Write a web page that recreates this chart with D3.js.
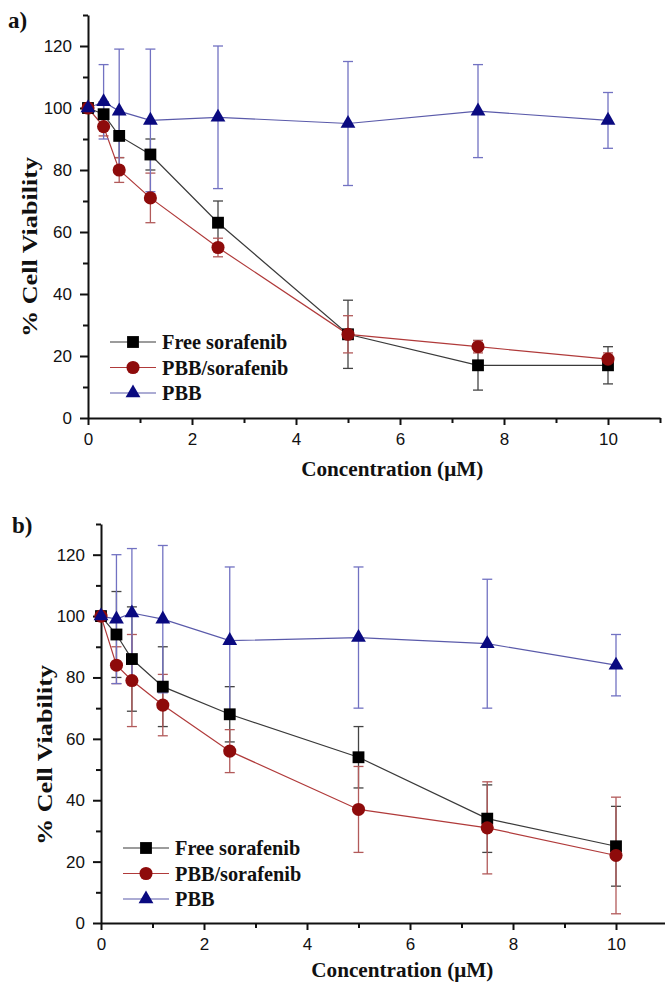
<!DOCTYPE html>
<html>
<head>
<meta charset="utf-8">
<script src="https://cdn.jsdelivr.net/npm/d3@7"></script>
<style>
  body { margin: 0; background: #fff; }
  svg { display: block; }
  .tickLabel text { font-family: "Liberation Sans", Arial, sans-serif; font-size: 17px; fill: #111; }
  .titre { font-family: "Liberation Serif", "Times New Roman", serif; font-weight: bold; fill: #111; }
</style>
</head>
<body>
<svg id="chart" width="665" height="984"></svg>
<script>
"use strict";

// concentrations (µM)
var concentrations = [0, 0.3, 0.6, 1.2, 2.5, 5, 7.5, 10];

// panel a
var freeA    = [100, 98, 91, 85, 63, 27, 17, 17];
var freeErrA = [0, 4, 7, 5, 7, 11, 8, 6];
var pbbSoraA    = [100, 94, 80, 71, 55, 27, 23, 19];
var pbbSoraErrA = [0, 3, 4, 8, 3, 6, 2, 2];
var pbbA    = [100, 102, 99, 96, 97, 95, 99, 96];
var pbbErrA = [0, 12, 20, 23, 23, 20, 15, 9];

// panel b
var freeB    = [100, 94, 86, 77, 68, 54, 34, 25];
var freeErrB = [0, 14, 17, 13, 9, 10, 11, 13];
var pbbSoraB    = [100, 84, 79, 71, 56, 37, 31, 22];
var pbbSoraErrB = [0, 6, 15, 10, 7, 14, 15, 19];
var pbbB    = [100, 99, 101, 99, 92, 93, 91, 84];
var pbbErrB = [0, 21, 21, 24, 24, 23, 21, 10];

var nomsSeries = ["Free sorafenib", "PBB/sorafenib", "PBB"];
var xTicks = [0, 2, 4, 6, 8, 10];
var yTicks = [0, 20, 40, 60, 80, 100, 120];

// styles des séries
var styles = [
    { symbole: d3.symbolSquare,   taille: 140, couleur: "#000000", ligne: "#3a3a3a", erreur: "#444444" },
    { symbole: d3.symbolCircle,   taille: 135, couleur: "#8e0b0b", ligne: "#b03a3a", erreur: "#b25a5a" },
    { symbole: d3.symbolTriangle, taille: 95,  couleur: "#0a0a80", ligne: "#5a5aaa", erreur: "#7272c2" }
];

var svg = d3.select("#chart");

function dessinerPanneau(opt) {
    var g = svg.append("g");

    var x = d3.scaleLinear().domain([0, 11]).range([opt.x0, opt.x1]);
    var y = d3.scaleLinear().domain([0, 130]).range([opt.y0, opt.y1]);

    // axes mineurs
    g.append("g").attr("transform", "translate(0," + opt.y0 + ")")
        .call(d3.axisBottom(x).tickValues([1, 3, 5, 7, 9, 11]).tickFormat("").tickSize(5).tickSizeOuter(0))
        .call(function(s) { s.select(".domain").remove(); s.selectAll("line").attr("stroke", "#111").attr("stroke-width", 2); });
    g.append("g").attr("transform", "translate(" + opt.x0 + ",0)")
        .call(d3.axisLeft(y).tickValues([10, 30, 50, 70, 90, 110, 130]).tickFormat("").tickSize(5).tickSizeOuter(0))
        .call(function(s) { s.select(".domain").remove(); s.selectAll("line").attr("stroke", "#111").attr("stroke-width", 2); });

    // axes majeurs
    g.append("g").attr("class", "tickLabel").attr("transform", "translate(0," + opt.y0 + ")")
        .call(d3.axisBottom(x).tickValues(xTicks).tickSize(7).tickSizeOuter(0).tickPadding(8))
        .call(function(s) {
            s.select(".domain").attr("stroke", "#111").attr("stroke-width", 2);
            s.selectAll("line").attr("stroke", "#111").attr("stroke-width", 2);
        });
    g.append("g").attr("class", "tickLabel").attr("transform", "translate(" + opt.x0 + ",0)")
        .call(d3.axisLeft(y).tickValues(yTicks).tickSize(8).tickSizeOuter(0).tickPadding(8))
        .call(function(s) {
            s.select(".domain").attr("stroke", "#111").attr("stroke-width", 2);
            s.selectAll("line").attr("stroke", "#111").attr("stroke-width", 2);
        });

    opt.series.forEach(function(serie, i) {
        var st = styles[i];
        var points = concentrations.map(function(c, j) {
            return { c: c, v: serie.valeurs[j], e: serie.erreurs[j] };
        });

        // barres d'erreur
        var eb = g.append("g").attr("stroke", st.erreur).attr("stroke-width", 1.3);
        points.filter(function(d) { return d.e > 0; }).forEach(function(d) {
            eb.append("line").attr("x1", x(d.c)).attr("x2", x(d.c)).attr("y1", y(d.v - d.e)).attr("y2", y(d.v + d.e));
            eb.append("line").attr("x1", x(d.c) - 5).attr("x2", x(d.c) + 5).attr("y1", y(d.v - d.e)).attr("y2", y(d.v - d.e));
            eb.append("line").attr("x1", x(d.c) - 5).attr("x2", x(d.c) + 5).attr("y1", y(d.v + d.e)).attr("y2", y(d.v + d.e));
        });

        // ligne
        g.append("path").datum(points)
            .attr("fill", "none").attr("stroke", st.ligne).attr("stroke-width", 1.2)
            .attr("d", d3.line().x(function(d) { return x(d.c); }).y(function(d) { return y(d.v); }));
    });

    opt.series.forEach(function(serie, i) {
        var st = styles[i];
        g.selectAll(".m" + i).data(concentrations).enter().append("path")
            .attr("transform", function(c, j) { return "translate(" + x(c) + "," + y(serie.valeurs[j]) + ")"; })
            .attr("d", d3.symbol().type(st.symbole).size(st.taille))
            .attr("fill", st.couleur);
    });

    // légende
    nomsSeries.forEach(function(nom, i) {
        var st = styles[i];
        var ly = opt.legY + i * 25.5;
        g.append("line").attr("x1", opt.legX).attr("x2", opt.legX + 46).attr("y1", ly).attr("y2", ly)
            .attr("stroke", st.ligne).attr("stroke-width", 1.2);
        g.append("path").attr("transform", "translate(" + (opt.legX + 23) + "," + ly + ")")
            .attr("d", d3.symbol().type(st.symbole).size(st.taille)).attr("fill", st.couleur);
        g.append("text").attr("class", "titre").attr("x", opt.legX + 52).attr("y", ly + 7)
            .style("font-size", "20.3px").text(nom);
    });

    // titres
    g.append("text").attr("class", "titre").attr("x", opt.lettreX).attr("y", opt.lettreY)
        .style("font-size", "23px").text(opt.lettre);
    g.append("text").attr("class", "titre").attr("text-anchor", "middle")
        .attr("x", x(5.85)).attr("y", opt.y0 + opt.titreXdy)
        .style("font-size", "21.2px").text("Concentration (\u03bcM)");
    g.append("text").attr("class", "titre").attr("text-anchor", "middle")
        .attr("transform", "translate(" + opt.titreYX + "," + opt.titreYY + ") rotate(-90)")
        .attr("textLength", 180).attr("lengthAdjust", "spacingAndGlyphs")
        .style("font-size", "22px").text("% Cell Viability");
}

dessinerPanneau({
    x0: 88, x1: 660, y0: 418, y1: 15,
    legX: 110, legY: 342, lettre: "a)", lettreX: 8, lettreY: 28,
    titreYX: 37, titreYY: 247, titreXdy: 58,
    series: [
        { valeurs: freeA, erreurs: freeErrA },
        { valeurs: pbbSoraA, erreurs: pbbSoraErrA },
        { valeurs: pbbA, erreurs: pbbErrA }
    ]
});

dessinerPanneau({
    x0: 101, x1: 667.5, y0: 923, y1: 524,
    legX: 123, legY: 848, lettre: "b)", lettreX: 12, lettreY: 533,
    titreYX: 52, titreYY: 755, titreXdy: 54,
    series: [
        { valeurs: freeB, erreurs: freeErrB },
        { valeurs: pbbSoraB, erreurs: pbbSoraErrB },
        { valeurs: pbbB, erreurs: pbbErrB }
    ]
});
</script>
</body>
</html>
